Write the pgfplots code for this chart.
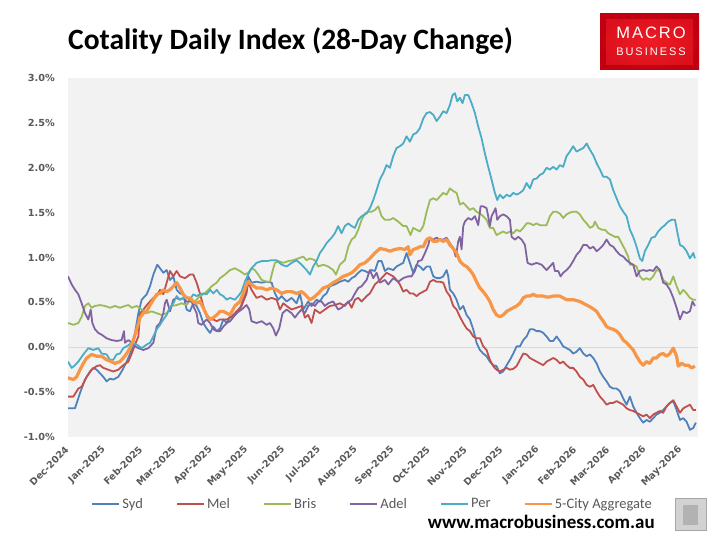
\documentclass[border=0pt]{standalone}
\usepackage{fontspec}
\setmainfont{Carlito}
\newfontfamily\tickfont{DejaVu Sans}[BoldFont={DejaVu Sans Bold}]
\newfontfamily\logoA[LetterSpace=12]{Liberation Sans}
\newfontfamily\logoB[LetterSpace=18]{Liberation Sans}
\usepackage{pgfplots}
\pgfplotsset{compat=1.18}
\definecolor{syd}{HTML}{4F81BD}
\definecolor{mel}{HTML}{C0504D}
\definecolor{bris}{HTML}{9BBB59}
\definecolor{adel}{HTML}{8064A2}
\definecolor{per}{HTML}{4BACC6}
\definecolor{agg}{HTML}{F79646}
\definecolor{plotbg}{HTML}{F2F2F2}
\definecolor{tickgray}{HTML}{595959}
\definecolor{zerogray}{HTML}{D9D9D9}
\definecolor{logoin}{HTML}{EE1C25}
\definecolor{logoout}{HTML}{C00010}
\begin{document}
\begin{tikzpicture}
\path[use as bounding box] (0pt,0pt) rectangle (711pt,539pt);
\fill[white] (0pt,0pt) rectangle (711pt,539pt);
\begin{axis}[
  at={(68pt,102pt)}, anchor=south west,
  scale only axis, width=630pt, height=359pt,
  xmin=0, xmax=530, ymin=-1, ymax=3,
  axis line style={draw=none},
  axis background/.style={fill=plotbg},
  major tick length=0pt,
  xtick={0,31,62,90,121,151,182,212,243,274,304,335,365,396,427,455,486,516},
  xticklabels={Dec-2024,Jan-2025,Feb-2025,Mar-2025,Apr-2025,May-2025,Jun-2025,Jul-2025,Aug-2025,Sep-2025,Oct-2025,Nov-2025,Dec-2025,Jan-2026,Feb-2026,Mar-2026,Apr-2026,May-2026},
  ytick={-1,-0.5,0,0.5,1,1.5,2,2.5,3},
  yticklabels={-1.0\%,-0.5\%,0.0\%,0.5\%,1.0\%,1.5\%,2.0\%,2.5\%,3.0\%},
  yticklabel style={font=\tickfont\bfseries\fontsize{9.7}{11}\selectfont, text=tickgray, inner sep=0pt, anchor=east, xshift=-13pt},
  xticklabel style={font=\tickfont\bfseries\fontsize{9.5}{11}\selectfont, text=tickgray, inner sep=0pt, yshift=-11pt, xshift=-1pt, rotate=45, anchor=east},
  legend style={at={(axis description cs:0.0365,-0.1866)}, anchor=west, draw=none, fill=none, legend columns=6, inner sep=0pt, font=\fontsize{14.5}{16}\selectfont, text=tickgray, /tikz/every even column/.append style={column sep=31pt}},
  legend cell align=left,
  legend image code/.code={\draw[#1, line width=2.2pt] (0pt,0pt) -- (27pt,0pt);},
  clip=true,
]
\addplot[zerogray, line width=1pt, forget plot] coordinates {(0,0) (530,0)};
\addplot[syd, line width=1.8pt, line join=round] coordinates {
(0,-0.68)(5.9,-0.68)(10.1,-0.51)(14.3,-0.36)(18.5,-0.27)(21.3,-0.23)(24.1,-0.25)(26.9,-0.29)(29.7,-0.33)(32.5,-0.38)(35.3,-0.35)(38.1,-0.36)(42.3,-0.33)(45.1,-0.27)(49.4,-0.16)(53.6,-0.03)(56.4,0.16)(59.2,0.38)(62.0,0.53)(66.2,0.59)(69.0,0.68)(71.8,0.81)(75.1,0.92)(77.4,0.88)(80.2,0.83)(83.0,0.86)(85.8,0.75)(88.6,0.79)(91.4,0.64)(94.2,0.60)(97.0,0.59)(99.8,0.42)(102.6,0.40)(105.4,0.49)(108.2,0.46)(111.0,0.38)(113.8,0.27)(116.6,0.21)(119.5,0.16)(122.3,0.23)(125.1,0.18)(127.9,0.21)(130.7,0.31)(133.5,0.27)(136.3,0.34)(140.4,0.36)(144.6,0.42)(148.8,0.60)(151.6,0.79)(154.4,0.72)(158.6,0.73)(162.9,0.72)(167.1,0.73)(171.3,0.72)(174.1,0.60)(176.9,0.53)(179.7,0.57)(183.9,0.51)(188.1,0.55)(192.3,0.49)(195.1,0.60)(197.9,0.42)(202.1,0.51)(204.9,0.46)(209.1,0.53)(211.9,0.51)(214.7,0.57)(217.5,0.60)(220.3,0.68)(224.5,0.70)(228.7,0.73)(232.9,0.75)(235.8,0.73)(238.6,0.77)(241.4,0.79)(244.2,0.83)(247.0,0.86)(249.8,0.85)(252.6,0.83)(255.4,0.86)(258.2,0.85)(261.0,0.96)(263.8,0.96)(266.6,0.85)(269.4,0.88)(273.6,0.86)(276.4,0.90)(279.2,0.92)(282.0,0.94)(284.8,1.05)(287.6,0.94)(290.4,0.83)(293.2,0.92)(296.0,0.90)(298.9,0.86)(301.7,0.90)(304.5,0.90)(307.3,0.79)(310.1,0.77)(312.9,0.77)(315.7,0.79)(318.5,0.86)(319.9,0.79)(321.3,0.64)(324.1,0.60)(326.9,0.53)(329.7,0.42)(332.5,0.46)(335.3,0.36)(338.1,0.31)(340.9,0.20)(343.7,0.05)(346.5,-0.03)(349.3,-0.07)(352.1,-0.10)(354.9,-0.16)(357.7,-0.20)(360.5,-0.21)(363.3,-0.29)(366.1,-0.27)(369.0,-0.20)(371.8,-0.14)(374.6,-0.07)(377.4,0.01)(380.2,0.01)(383.0,0.08)(385.8,0.12)(388.6,0.20)(391.4,0.20)(394.2,0.18)(397.0,0.18)(399.8,0.16)(402.6,0.12)(405.4,0.07)(408.2,0.07)(411.0,0.12)(413.8,0.07)(416.6,0.01)(419.4,-0.01)(422.2,-0.03)(425.0,-0.07)(427.8,-0.05)(430.6,-0.01)(433.5,-0.07)(436.3,-0.10)(439.1,-0.08)(441.9,-0.12)(444.7,-0.18)(447.5,-0.27)(450.3,-0.33)(453.1,-0.38)(455.9,-0.44)(458.7,-0.46)(461.5,-0.46)(464.3,-0.49)(467.1,-0.57)(469.9,-0.64)(472.7,-0.55)(475.5,-0.66)(478.3,-0.73)(481.1,-0.79)(483.9,-0.84)(486.7,-0.81)(489.5,-0.83)(492.3,-0.79)(495.1,-0.75)(497.9,-0.73)(500.7,-0.70)(503.5,-0.66)(506.4,-0.62)(509.2,-0.60)(512.0,-0.70)(514.8,-0.81)(517.6,-0.79)(520.4,-0.83)(523.2,-0.92)(526.0,-0.90)(528.2,-0.84)
};
\addlegendentry{Syd}
\addplot[mel, line width=1.8pt, line join=round] coordinates {
(0,-0.55)(4.5,-0.55)(8.7,-0.46)(11.5,-0.44)(15.7,-0.33)(19.9,-0.25)(24.1,-0.21)(26.9,-0.20)(29.7,-0.23)(33.9,-0.25)(38.1,-0.27)(42.3,-0.25)(46.5,-0.20)(50.8,-0.16)(53.6,-0.07)(56.4,0.03)(59.2,0.12)(60.6,0.38)(63.4,0.42)(67.6,0.49)(71.8,0.55)(74.6,0.57)(77.4,0.64)(80.2,0.59)(83.0,0.72)(85.8,0.85)(88.6,0.79)(91.4,0.85)(94.2,0.79)(98.4,0.77)(102.6,0.81)(105.4,0.81)(108.2,0.72)(111.0,0.60)(113.8,0.46)(116.6,0.34)(119.5,0.31)(122.3,0.31)(125.1,0.29)(127.9,0.31)(133.5,0.31)(137.6,0.34)(141.8,0.40)(146.0,0.46)(150.2,0.60)(151.6,0.73)(154.4,0.64)(158.6,0.55)(162.9,0.57)(167.1,0.53)(171.3,0.55)(175.5,0.53)(178.3,0.42)(181.1,0.49)(183.9,0.46)(188.1,0.42)(192.3,0.44)(196.5,0.46)(199.3,0.33)(202.1,0.36)(204.9,0.27)(207.7,0.42)(211.9,0.38)(216.1,0.42)(220.3,0.46)(224.5,0.47)(228.7,0.49)(232.9,0.46)(235.8,0.51)(238.6,0.44)(241.4,0.53)(244.2,0.55)(247.0,0.51)(251.2,0.57)(254.0,0.60)(258.2,0.70)(262.4,0.75)(265.2,0.79)(268.0,0.83)(270.8,0.81)(273.6,0.79)(276.4,0.75)(279.2,0.70)(282.0,0.62)(284.8,0.64)(287.6,0.60)(290.4,0.60)(293.2,0.57)(296.0,0.60)(298.9,0.62)(301.7,0.64)(304.5,0.73)(307.3,0.75)(310.1,0.73)(312.9,0.73)(315.7,0.72)(318.5,0.62)(321.3,0.57)(324.1,0.46)(326.9,0.42)(329.7,0.34)(332.5,0.27)(335.3,0.21)(338.1,0.18)(340.9,0.12)(343.7,0.10)(346.5,0.10)(349.3,0.01)(352.1,-0.03)(354.9,-0.14)(357.7,-0.21)(360.5,-0.25)(363.3,-0.27)(366.1,-0.25)(369.0,-0.23)(371.8,-0.25)(374.6,-0.24)(377.4,-0.21)(380.2,-0.14)(383.0,-0.07)(385.8,-0.08)(388.6,-0.12)(391.4,-0.14)(394.2,-0.16)(397.0,-0.18)(399.8,-0.20)(402.6,-0.16)(405.4,-0.14)(408.2,-0.12)(411.0,-0.14)(413.8,-0.18)(416.6,-0.16)(419.4,-0.20)(422.2,-0.23)(425.0,-0.23)(427.8,-0.27)(430.6,-0.33)(433.5,-0.36)(436.3,-0.42)(439.1,-0.44)(441.9,-0.42)(444.7,-0.49)(447.5,-0.55)(450.3,-0.59)(453.1,-0.64)(455.9,-0.62)(458.7,-0.62)(461.5,-0.60)(464.3,-0.62)(467.1,-0.64)(469.9,-0.68)(472.7,-0.70)(475.5,-0.71)(478.3,-0.73)(481.1,-0.75)(483.9,-0.77)(486.7,-0.75)(489.5,-0.79)(492.3,-0.75)(495.1,-0.73)(497.9,-0.71)(500.7,-0.73)(503.5,-0.66)(506.4,-0.62)(509.2,-0.59)(512.0,-0.66)(514.8,-0.73)(517.6,-0.68)(520.4,-0.66)(523.2,-0.64)(526.0,-0.70)(528.2,-0.70)
};
\addlegendentry{Mel}
\addplot[bris, line width=1.8pt, line join=round] coordinates {
(0,0.27)(4.5,0.25)(8.7,0.27)(11.5,0.34)(14.3,0.46)(17.1,0.49)(19.9,0.44)(22.7,0.46)(26.9,0.47)(31.1,0.46)(35.3,0.44)(39.5,0.46)(43.7,0.44)(47.9,0.46)(50.8,0.47)(53.6,0.44)(57.8,0.46)(62.0,0.42)(66.2,0.38)(70.4,0.40)(74.6,0.38)(78.8,0.36)(83.0,0.38)(87.2,0.46)(91.4,0.47)(95.6,0.49)(99.8,0.47)(102.6,0.53)(105.4,0.49)(108.2,0.53)(111.0,0.57)(113.8,0.59)(116.6,0.62)(120.9,0.68)(125.1,0.72)(127.9,0.77)(132.1,0.81)(136.3,0.86)(140.4,0.88)(144.6,0.85)(148.8,0.81)(151.6,0.83)(154.4,0.88)(157.2,0.86)(160.0,0.81)(162.9,0.75)(167.1,0.73)(169.9,0.73)(172.1,0.85)(174.1,0.94)(176.9,0.96)(181.1,0.94)(185.3,0.96)(189.5,0.97)(193.7,0.99)(197.9,1.01)(200.7,0.97)(203.5,0.99)(207.7,0.97)(210.5,0.90)(214.7,0.92)(218.9,0.90)(223.1,0.86)(225.4,0.81)(228.7,0.92)(232.9,0.97)(235.8,1.12)(238.6,1.20)(241.4,1.23)(244.2,1.31)(247.0,1.42)(249.8,1.49)(252.6,1.51)(255.4,1.51)(258.2,1.53)(261.0,1.57)(263.8,1.46)(266.6,1.42)(270.8,1.42)(273.6,1.44)(277.8,1.40)(282.0,1.35)(284.8,1.35)(288.2,1.25)(290.4,1.33)(293.2,1.31)(296.0,1.29)(298.9,1.35)(301.7,1.51)(304.5,1.64)(307.3,1.66)(310.1,1.64)(312.9,1.68)(315.7,1.72)(318.5,1.70)(321.3,1.77)(324.1,1.74)(326.9,1.72)(329.7,1.59)(332.5,1.61)(335.3,1.57)(338.1,1.53)(340.9,1.55)(343.7,1.51)(346.5,1.49)(349.3,1.46)(352.1,1.42)(354.9,1.33)(357.7,1.33)(360.5,1.25)(363.3,1.27)(366.1,1.29)(369.0,1.27)(371.8,1.29)(374.6,1.27)(377.4,1.31)(380.2,1.29)(383.0,1.33)(385.8,1.38)(388.6,1.38)(391.4,1.36)(394.2,1.38)(397.0,1.36)(399.8,1.36)(402.6,1.36)(405.4,1.46)(408.2,1.51)(411.0,1.51)(413.8,1.49)(416.6,1.44)(419.4,1.48)(422.2,1.50)(425.0,1.51)(427.8,1.51)(430.6,1.48)(433.5,1.42)(436.3,1.38)(439.1,1.33)(441.9,1.35)(443.3,1.40)(446.1,1.33)(448.9,1.31)(451.7,1.31)(454.5,1.27)(457.3,1.25)(460.1,1.23)(462.9,1.23)(465.7,1.16)(468.5,1.09)(471.3,1.01)(472.7,0.92)(475.5,0.92)(478.3,0.90)(481.1,0.79)(483.9,0.75)(486.7,0.77)(489.5,0.75)(492.3,0.79)(495.1,0.86)(497.9,0.85)(500.7,0.75)(503.5,0.72)(506.4,0.70)(509.2,0.79)(512.0,0.68)(514.8,0.59)(517.6,0.64)(520.4,0.60)(523.2,0.55)(526.0,0.53)(528.2,0.53)
};
\addlegendentry{Bris}
\addplot[adel, line width=1.8pt, line join=round] coordinates {
(0,0.79)(3.1,0.70)(5.9,0.64)(8.7,0.59)(11.5,0.49)(14.3,0.38)(17.1,0.31)(19.1,0.42)(20.5,0.27)(22.7,0.20)(25.5,0.16)(28.3,0.14)(32.5,0.10)(36.7,0.08)(40.9,0.07)(45.1,0.08)(47.1,0.18)(47.9,0.05)(50.8,0.08)(53.6,0.05)(56.4,0.01)(59.2,-0.01)(63.4,-0.03)(67.6,-0.01)(71.8,0.05)(74.6,0.23)(77.4,0.27)(80.2,0.38)(81.6,0.49)(83.0,0.53)(85.8,0.40)(88.6,0.53)(91.4,0.55)(94.2,0.53)(97.0,0.55)(99.8,0.51)(104.0,0.51)(105.4,0.46)(108.2,0.38)(109.6,0.27)(112.4,0.25)(116.6,0.31)(119.5,0.27)(122.3,0.20)(125.1,0.18)(127.9,0.18)(130.7,0.23)(133.5,0.27)(136.3,0.29)(141.8,0.38)(146.0,0.42)(150.2,0.47)(152.5,0.42)(154.4,0.29)(158.6,0.27)(162.9,0.29)(167.1,0.25)(169.9,0.27)(172.7,0.21)(174.9,0.13)(177.7,0.21)(180.5,0.38)(183.9,0.42)(188.1,0.38)(190.9,0.33)(193.7,0.38)(196.5,0.42)(199.3,0.38)(202.1,0.46)(204.9,0.49)(207.7,0.46)(210.5,0.51)(213.3,0.51)(216.1,0.46)(218.9,0.49)(223.1,0.51)(227.3,0.42)(230.1,0.44)(234.3,0.49)(238.6,0.53)(241.4,0.60)(244.2,0.66)(247.0,0.68)(251.2,0.75)(254.0,0.86)(256.8,0.77)(259.6,0.83)(262.4,0.72)(266.6,0.75)(269.4,0.70)(273.6,0.77)(277.8,0.73)(282.0,0.77)(286.2,0.79)(289.0,0.79)(291.8,0.85)(294.6,0.96)(297.5,0.97)(300.3,1.05)(303.1,1.14)(304.5,1.22)(307.3,1.20)(310.1,1.22)(312.9,1.20)(315.7,1.20)(318.5,1.22)(321.3,1.16)(324.1,1.10)(326.3,1.01)(328.3,1.18)(329.7,1.23)(331.1,1.09)(332.5,1.35)(333.9,1.40)(336.7,1.44)(339.5,1.42)(342.3,1.46)(345.1,1.36)(347.1,1.57)(349.3,1.57)(352.1,1.55)(353.5,1.46)(354.9,1.35)(356.3,1.46)(358.3,1.51)(359.7,1.55)(361.1,1.42)(363.3,1.46)(366.1,1.48)(369.0,1.46)(371.8,1.42)(373.2,1.23)(376.0,1.20)(378.8,1.23)(381.6,1.20)(384.4,1.14)(386.6,0.94)(390.0,0.92)(394.2,0.94)(398.4,0.92)(402.6,0.86)(405.4,0.90)(408.2,0.94)(409.6,0.85)(412.4,0.85)(414.4,0.79)(416.6,0.83)(419.4,0.86)(422.2,0.90)(425.0,0.96)(427.8,1.03)(430.6,1.07)(433.5,1.14)(436.3,1.14)(439.1,1.10)(441.9,1.12)(444.7,1.07)(447.5,1.10)(450.3,1.14)(453.1,1.20)(455.9,1.14)(458.7,1.12)(461.5,1.07)(464.3,1.03)(467.1,1.01)(469.9,0.97)(472.7,0.94)(475.5,0.92)(478.3,0.79)(481.1,0.85)(483.9,0.86)(486.7,0.85)(489.5,0.86)(492.3,0.85)(495.1,0.90)(497.9,0.86)(500.7,0.72)(503.5,0.70)(506.4,0.64)(509.2,0.55)(512.0,0.44)(514.8,0.31)(517.6,0.40)(520.4,0.38)(523.2,0.40)(525.4,0.51)(527.4,0.46)
};
\addlegendentry{Adel}
\addplot[per, line width=1.8pt, line join=round] coordinates {
(0,-0.16)(3.1,-0.23)(5.9,-0.20)(8.7,-0.16)(12.9,-0.08)(17.1,-0.01)(21.3,-0.03)(25.5,-0.01)(28.3,-0.07)(32.5,-0.08)(35.3,-0.14)(38.1,-0.14)(40.9,-0.08)(43.7,-0.07)(46.5,-0.01)(49.4,0.01)(53.6,0.05)(57.8,0.03)(62.0,-0.01)(66.2,0.03)(69.0,0.05)(71.8,0.12)(74.6,0.20)(77.4,0.25)(80.2,0.31)(83.0,0.36)(85.8,0.44)(88.6,0.49)(91.4,0.57)(94.2,0.53)(97.0,0.55)(99.8,0.55)(102.6,0.53)(105.4,0.59)(108.2,0.57)(111.0,0.59)(113.8,0.60)(116.6,0.59)(119.5,0.64)(122.3,0.60)(125.1,0.64)(127.9,0.59)(130.7,0.57)(133.5,0.53)(136.3,0.55)(140.4,0.53)(143.2,0.57)(146.0,0.62)(148.8,0.73)(151.6,0.81)(154.4,0.88)(158.6,0.94)(162.9,0.96)(167.1,0.96)(171.3,0.97)(175.5,0.97)(179.7,0.92)(183.9,0.90)(188.1,0.94)(192.3,0.97)(196.5,0.92)(200.7,0.86)(203.5,0.81)(206.3,0.90)(209.1,0.96)(211.9,1.05)(214.7,1.10)(217.5,1.16)(221.7,1.22)(224.5,1.27)(227.3,1.35)(230.1,1.27)(232.9,1.35)(235.8,1.38)(238.6,1.35)(241.4,1.33)(244.2,1.42)(247.0,1.46)(251.2,1.49)(254.0,1.55)(256.8,1.64)(259.6,1.75)(262.4,1.87)(265.2,1.94)(268.0,2.03)(270.8,2.00)(273.6,2.13)(276.4,2.22)(279.2,2.24)(282.0,2.27)(284.8,2.35)(287.6,2.29)(290.4,2.37)(293.2,2.39)(296.0,2.44)(298.9,2.55)(301.7,2.61)(304.5,2.62)(307.3,2.59)(310.1,2.52)(312.9,2.57)(315.7,2.63)(318.5,2.61)(321.3,2.70)(323.5,2.81)(325.5,2.83)(327.5,2.74)(329.7,2.78)(331.9,2.72)(333.9,2.81)(336.7,2.81)(339.5,2.72)(342.3,2.61)(345.1,2.46)(347.9,2.33)(350.7,2.16)(353.5,2.01)(356.3,1.87)(359.1,1.72)(361.1,1.64)(363.3,1.70)(366.1,1.66)(369.0,1.70)(371.8,1.68)(374.6,1.72)(377.4,1.70)(380.2,1.72)(383.0,1.75)(385.8,1.83)(388.6,1.77)(391.4,1.87)(394.2,1.88)(397.0,1.92)(399.8,1.94)(402.6,2.00)(405.4,1.98)(408.2,2.01)(411.0,1.98)(413.8,2.03)(416.6,2.01)(419.4,2.13)(422.2,2.18)(425.0,2.24)(427.8,2.18)(430.6,2.20)(433.5,2.22)(436.3,2.27)(439.1,2.20)(441.9,2.14)(444.7,2.05)(447.5,1.98)(450.3,1.90)(453.1,1.90)(455.9,1.87)(458.7,1.75)(461.5,1.66)(464.3,1.57)(467.1,1.51)(469.9,1.46)(472.7,1.31)(475.5,1.23)(478.3,1.12)(481.1,0.99)(483.1,0.96)(485.3,1.07)(488.1,1.14)(490.9,1.22)(493.7,1.23)(496.5,1.29)(499.3,1.33)(502.1,1.36)(504.9,1.40)(507.8,1.42)(510.6,1.42)(512.8,1.27)(514.8,1.14)(517.6,1.12)(520.4,1.07)(523.2,0.99)(526.0,1.05)(527.4,0.99)
};
\addlegendentry{Per}
\addplot[agg, line width=3.2pt, line join=round] coordinates {
(0,-0.34)(4.5,-0.36)(7.3,-0.33)(10.1,-0.25)(12.9,-0.18)(15.7,-0.12)(19.9,-0.08)(24.1,-0.10)(28.3,-0.10)(32.5,-0.14)(36.7,-0.16)(39.5,-0.18)(43.7,-0.16)(46.5,-0.12)(49.4,-0.07)(52.2,-0.01)(55.0,0.08)(57.8,0.20)(60.6,0.33)(63.4,0.38)(66.2,0.40)(69.0,0.47)(71.8,0.53)(74.6,0.59)(77.4,0.60)(80.2,0.64)(83.0,0.62)(85.8,0.64)(88.6,0.68)(91.4,0.72)(94.2,0.66)(97.0,0.59)(99.8,0.55)(102.6,0.55)(105.4,0.51)(108.2,0.49)(111.0,0.51)(113.8,0.44)(116.6,0.36)(119.5,0.31)(122.3,0.33)(125.1,0.36)(127.9,0.40)(130.7,0.40)(133.5,0.38)(136.3,0.36)(140.4,0.46)(144.6,0.51)(147.4,0.60)(150.2,0.70)(151.6,0.73)(154.4,0.70)(158.6,0.66)(162.9,0.66)(167.1,0.64)(171.3,0.66)(175.5,0.64)(179.7,0.60)(183.9,0.62)(188.1,0.62)(192.3,0.60)(196.5,0.62)(199.3,0.59)(203.5,0.53)(206.3,0.55)(210.5,0.60)(214.7,0.66)(218.9,0.68)(223.1,0.72)(227.3,0.75)(231.5,0.79)(235.8,0.81)(238.6,0.83)(241.4,0.86)(245.6,0.92)(249.8,0.94)(254.0,0.99)(258.2,1.05)(262.4,1.10)(266.6,1.09)(270.8,1.07)(275.0,1.09)(279.2,1.10)(283.4,1.09)(286.2,1.12)(287.6,1.03)(290.4,1.09)(293.2,1.10)(296.0,1.12)(298.9,1.12)(301.7,1.20)(304.5,1.22)(307.3,1.18)(310.1,1.18)(312.9,1.20)(315.7,1.18)(318.5,1.20)(321.3,1.14)(324.1,1.10)(326.9,1.05)(329.7,0.96)(332.5,0.92)(335.3,0.90)(338.1,0.86)(340.9,0.81)(343.7,0.73)(346.5,0.66)(349.3,0.62)(352.1,0.57)(354.9,0.51)(357.7,0.42)(360.5,0.36)(363.3,0.34)(366.1,0.36)(369.0,0.40)(371.8,0.42)(374.6,0.44)(377.4,0.46)(380.2,0.49)(383.0,0.55)(385.8,0.57)(388.6,0.57)(391.4,0.59)(394.2,0.57)(397.0,0.57)(399.8,0.57)(402.6,0.56)(405.4,0.56)(408.2,0.57)(413.8,0.57)(419.4,0.53)(425.0,0.53)(430.6,0.51)(436.3,0.47)(440.5,0.44)(444.7,0.40)(447.5,0.34)(450.3,0.29)(453.1,0.23)(455.9,0.21)(458.7,0.20)(461.5,0.18)(464.3,0.14)(467.1,0.08)(469.9,0.05)(472.7,0.01)(475.5,-0.03)(478.3,-0.10)(481.1,-0.16)(483.9,-0.20)(486.7,-0.16)(489.5,-0.18)(492.3,-0.12)(495.1,-0.12)(497.9,-0.08)(500.7,-0.07)(503.5,-0.10)(506.4,-0.07)(509.2,-0.01)(512.0,-0.10)(513.4,-0.21)(516.2,-0.18)(519.0,-0.20)(521.8,-0.20)(524.6,-0.23)(527.4,-0.21)
};
\addlegendentry{5-City Aggregate}
\end{axis}
% title
\node[anchor=base west, inner sep=0pt, font=\bfseries\fontsize{29.5}{32}\selectfont] at (68pt,489pt) {Cotality Daily Index (28-Day Change)};
% logo
\shade[inner color=logoin, outer color=logoout] (600pt,469pt) rectangle (699pt,525pt);
\fill[logoin, opacity=0.6] (606pt,474pt) rectangle (693pt,520pt);
\node[anchor=base, inner sep=0pt, text=white, font=\logoA\fontsize{16.5}{18}\selectfont] at (651pt,500pt) {MACRO};
\node[anchor=base, inner sep=0pt, text=white, font=\logoB\fontsize{11}{12}\selectfont] at (651pt,483pt) {BUSINESS};
% website
\node[anchor=base east, inner sep=0pt, font=\bfseries\fontsize{19}{21}\selectfont] at (655pt,11pt) {www.macrobusiness.com.au};
% wolf placeholder
\fill[gray!35] (675pt,9pt) rectangle (706pt,41pt);
\fill[gray!60] (683pt,14pt) rectangle (698pt,34pt);
\draw[gray!70, line width=0.8pt] (675pt,9pt) rectangle (706pt,41pt);
\end{tikzpicture}
\end{document}
